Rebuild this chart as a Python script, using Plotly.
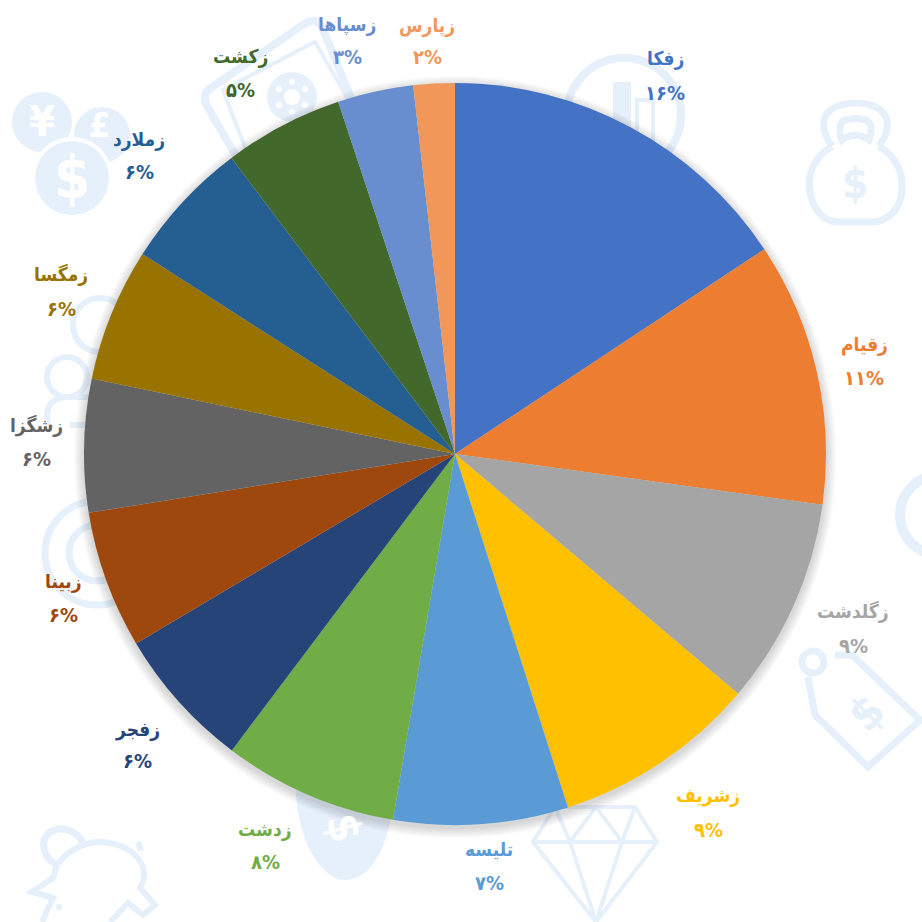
import plotly.graph_objects as go

names = ["زفکا", "زقیام", "زگلدشت", "زشریف", "تلیسه", "زدشت", "زفجر", "زبینا", "زشگزا", "زمگسا", "زملارد", "زکشت", "زسپاها", "زپارس"]
values = [15.7, 11.5, 9.0, 8.9, 7.6, 7.6, 6.2, 6.0, 5.8, 5.8, 5.65, 5.2, 3.3, 1.8]
pct_labels = ["۱۶%", "۱۱%", "۹%", "۹%", "۷%", "۸%", "۶%", "۶%", "۶%", "۶%", "۶%", "۵%", "۳%", "۲%"]
colors = ["#4472C4", "#ED7D31", "#A5A5A5", "#FFC000", "#5B9BD5", "#70AD47", "#264478",
          "#9E480E", "#636363", "#997300", "#255E91", "#43682B", "#698ED0", "#F1975A"]
label_x = [665, 864, 853, 708, 489, 265, 137, 63, 36, 61, 139, 240, 347, 427]
name_y = [58, 344, 611, 795, 849, 829, 729, 581, 425, 274, 139, 56, 24, 25]
pct_y = [93, 378, 646, 830, 883, 862, 761, 615, 459, 309, 172, 90, 57, 57]

W = 922
CX, CY, R = 455, 454, 371
ICON = "#e6f0fb"
FONT = "DejaVu Sans Condensed, DejaVu Sans, sans-serif"

shapes = []


def circle(cx, cy, r, fill=None, line=None, width=0):
    shapes.append(dict(type="circle", xref="x", yref="y", layer="below",
                       x0=cx - r, x1=cx + r, y0=cy - r, y1=cy + r,
                       fillcolor=fill or "rgba(0,0,0,0)",
                       line=dict(color=line or "rgba(0,0,0,0)", width=width)))


def path(d, fill=None, line=ICON, width=5):
    shapes.append(dict(type="path", xref="x", yref="y", layer="below", path=d,
                       fillcolor=fill or "rgba(0,0,0,0)",
                       line=dict(color=line or "rgba(0,0,0,0)", width=width)))


# coins
circle(42, 122, 30, ICON)
circle(102, 135, 28, ICON)
circle(72, 178, 41, "#ffffff")
circle(72, 178, 37, ICON)

# chart badge, top
circle(624, 115, 57, None, ICON, 8)
path("M613 150 L613 82 L631 82 L631 150 Z", ICON, None, 0)
path("M637 160 L637 100 L653 100 L653 160 Z", None, ICON, 4)

# kettlebell
path("M832 146 C820 130 822 115 832 109 C845 101 866 101 879 109 C889 115 891 130 879 146", None, ICON, 7)
path("M842 140 C838 130 840 122 845 120 C852 118 860 118 866 120 C871 122 873 130 869 140 C860 134 850 134 842 140 Z", None, ICON, 7)
path("M832 146 C812 158 806 178 811 197 C815 212 826 222 838 222 L872 222 C886 222 897 212 901 197 C905 178 899 158 879 146", None, ICON, 7)

# price tag
path("M835 655 L852 655 L920 720 L868 767 L815 715 L808 677", None, ICON, 7)
circle(813, 662, 11, None, ICON, 7)

# diamond
path("M555 807 L635 807 L657 842 L596 922 L533 842 Z", None, ICON, 4)
path("M533 842 L657 842 M555 807 L570 842 L596 922 L622 842 L635 807 M570 842 L596 807 L622 842", None, ICON, 4)

# teardrop
path("M296 790 C296 835 320 880 345 880 C375 880 393 835 393 790 Z", ICON, None, 0)

# piggy
path("M57 865 C43 858 40 842 48 834 C58 824 76 830 83 842", None, ICON, 7)
path("M57 865 C66 852 80 845 90 843 C106 840 125 845 135 855 C146 866 146 878 140 888 L155 905 L143 915 L128 903 L110 922", None, ICON, 6)
path("M57 865 L53 878 L32 892 L53 898 L42 922 M138 842 L141 851", None, ICON, 6)
circle(59, 907, 3, ICON)

# tablet with gear
path("M208 90 Q202 98 207 106 L250 180 L360 120 L322 27 Q316 16 304 24 Z", None, ICON, 8)
path("M223 90 L315 42 L360 120 L250 160 Z", None, ICON, 4)
circle(292, 97, 25, ICON)
for dx, dy in [(0, -15), (13, -8), (13, 8), (0, 15), (-13, 8), (-13, -8)]:
    circle(292 + dx, 97 + dy, 3, "#ffffff")
circle(292, 97, 8, "#ffffff")

# people / rings, left
circle(100, 325, 27, None, ICON, 6)
circle(67, 377, 20, None, ICON, 6)
path("M48 425 C44 405 52 397 70 397 L90 397 M70 425 L110 425", None, ICON, 6)
circle(97, 553, 52, None, ICON, 7)
circle(97, 553, 28, None, ICON, 7)

# ring, right edge
circle(940, 515, 40, None, ICON, 10)

# pie's soft shadow
for i in range(10, 0, -1):
    circle(CX, CY + 3, R + i, "rgba(70,70,70,0.022)")

annotations = []


def note(x, y, text, color, size=20, angle=0, weight=700):
    annotations.append(dict(xref="x", yref="y", x=x, y=y, text=text, showarrow=False,
                            textangle=angle, xanchor="center", yanchor="middle",
                            font=dict(family=FONT, size=size, color=color, weight=weight)))


# glyphs on the background icons
note(42, 121, "¥", "#ffffff", 42)
note(99, 125, "£", "#ffffff", 34)
note(72, 178, "$", "#ffffff", 58)
note(855, 183, "$", ICON, 42)
note(866, 713, "$", ICON, 46, -45)
note(345, 828, "$", "#ffffff", 44, 75)

for x, yn, yp, n, p, c in zip(label_x, name_y, pct_y, names, pct_labels, colors):
    note(x, yn, n, c, 19)
    note(x, yp, p, c, 20)

fig = go.Figure(go.Pie(
    labels=names, values=values, sort=False, direction="clockwise", rotation=0,
    marker=dict(colors=colors, line=dict(width=0)),
    textinfo="none", hoverinfo="label+percent", showlegend=False,
    domain=dict(x=[(CX - R) / W, (CX + R) / W], y=[1 - (CY + R) / W, 1 - (CY - R) / W]),
))
fig.update_layout(
    width=W, height=W, margin=dict(l=0, r=0, t=0, b=0),
    paper_bgcolor="#ffffff", plot_bgcolor="rgba(0,0,0,0)",
    xaxis=dict(range=[0, W], visible=False, fixedrange=True),
    yaxis=dict(range=[W, 0], visible=False, fixedrange=True),
    shapes=shapes, annotations=annotations,
)
fig.write_html("out.html", config={"displayModeBar": False},
               post_script="document.body.style.margin='0';document.body.style.overflow='hidden';")
